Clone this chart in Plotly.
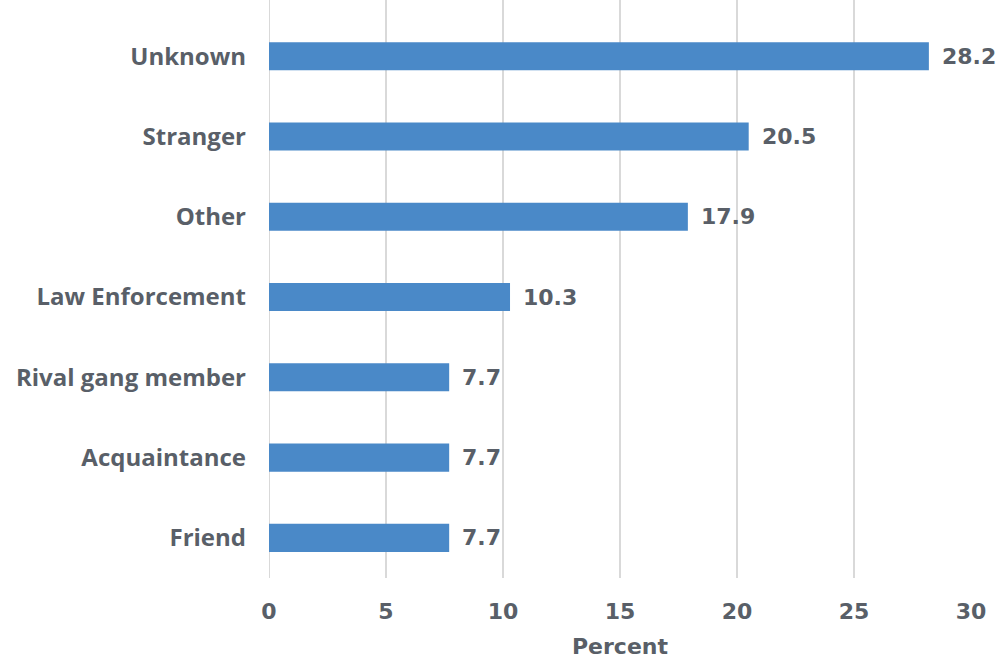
import plotly.graph_objects as go

categories = ["Friend", "Acquaintance", "Rival gang member", "Law Enforcement", "Other", "Stranger", "Unknown"]
values = [7.7, 7.7, 7.7, 10.3, 17.9, 20.5, 28.2]
x_ticks = [0, 5, 10, 15, 20, 25, 30]

TEXT = "#595f68"
FONT = "Open Sans"
NUMFONT = "DejaVu Sans"

fig = go.Figure(go.Bar(
    y=categories, x=values, orientation="h",
    marker=dict(color="#4a89c8", line=dict(width=0)),
    width=0.35,
))

for c, v in zip(categories, values):
    fig.add_annotation(x=v, y=c, text=f"{v:.1f}", showarrow=False,
                       xanchor="left", yanchor="middle", xshift=11,
                       font=dict(family=NUMFONT, size=22, color=TEXT, weight="bold"))

fig.update_layout(
    width=1004, height=659,
    margin=dict(l=269, r=33, t=0, b=81),
    plot_bgcolor="white", paper_bgcolor="white",
    showlegend=False,
    font=dict(family=FONT, size=24, color=TEXT, weight="bold"),
    xaxis=dict(range=[0, 30], tickvals=x_ticks, showgrid=True, gridcolor="#d9d9d9",
               gridwidth=2, zeroline=False, showline=False, ticks="",
               ticklabelstandoff=18,
               tickfont=dict(family=NUMFONT, size=22, color=TEXT, weight="bold"),
               title=dict(text="Percent", standoff=18,
                          font=dict(family=NUMFONT, size=22, color=TEXT, weight="bold"))),
    yaxis=dict(range=[-0.5, 6.7], showgrid=False, zeroline=False, showline=False,
               ticks="", ticklabelstandoff=22,
               tickfont=dict(family=FONT, size=24, color=TEXT, weight="bold")),
)
fig.add_shape(type="line", xref="x", yref="paper", x0=0, x1=0, y0=0, y1=1,
              line=dict(color="#d9d9d9", width=2), layer="below")

fig.write_html("out.html")
